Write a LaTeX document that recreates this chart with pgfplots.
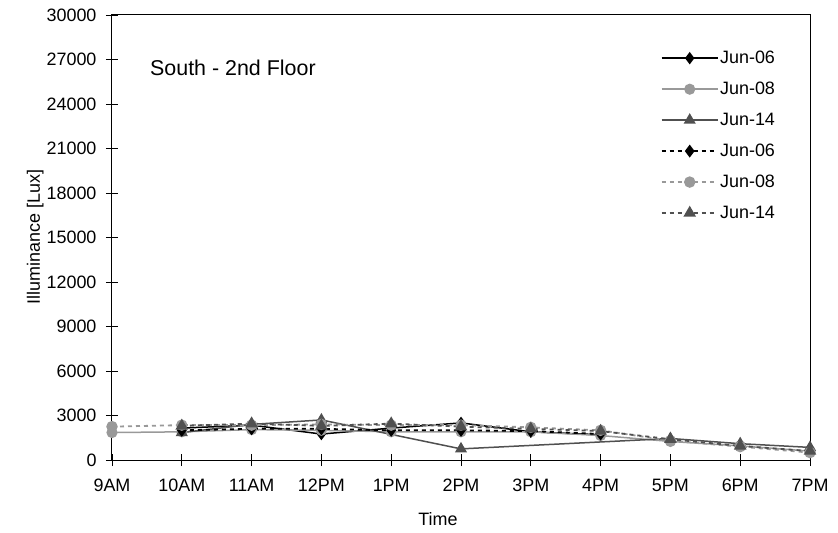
\documentclass[border=0pt]{standalone}
\usepackage{fontspec}
\setmainfont{Liberation Sans}
\usepackage{pgfplots}
\pgfplotsset{compat=1.18}
\definecolor{lgray}{RGB}{153,153,153}
\definecolor{dgray}{RGB}{80,80,80}
\begin{document}
\begin{tikzpicture}
\useasboundingbox (-112bp,-73bp) rectangle (726bp,460bp);
\begin{axis}[
  at={(0,0)}, anchor=south west,
  scale only axis, width=698bp, height=445bp,
  xmin=0, xmax=10, ymin=0, ymax=30000,
  xtick={0,...,10},
  xticklabels={9AM,10AM,11AM,12PM,1PM,2PM,3PM,4PM,5PM,6PM,7PM},
  ytick={0,3000,...,30000},
  /pgf/number format/assume math mode=true,
  /pgf/number format/set thousands separator={},
  scaled y ticks=false,
  tick align=center, major tick length=12bp,
  xtick pos=bottom, ytick pos=left,
  tick style={black, line width=0.8bp},
  axis line style={black, line width=1bp},
  ticklabel style={font=\fontsize{18}{20}\selectfont},
  xticklabel style={text height=13bp, text depth=0bp, yshift=-9bp},
  yticklabel style={xshift=-6bp},
  xlabel={Time}, ylabel={Illuminance [Lux]},
  every axis x label/.style={at={(axis description cs:0.467,-0.1326)}, anchor=center, font=\fontsize{18}{20}\selectfont},
  every axis y label/.style={at={(axis description cs:-0.110,0.501)}, anchor=center, rotate=90, font=\fontsize{18}{20}\selectfont},
  clip=false,
  legend cell align=left,
  legend image code/.code={\draw[mark repeat=2,mark phase=2,#1] plot coordinates {(0bp,0bp) (28bp,0bp) (56bp,0bp)};},
  legend style={draw=none, fill=none, at={(axis description cs:0.786,0.9225)}, anchor=north west,
    font=\fontsize{18}{20}\selectfont, inner sep=0pt, row sep=14bp,
    nodes={inner sep=1.5bp}},
]
% solid series
\addplot[black, line width=1.5bp, mark=diamond*, mark size=5bp, mark options={solid, fill=black}]
  coordinates {(1,2150) (2,2350) (3,1750) (4,2150) (5,2500) (6,1900) (7,1700)};
\addlegendentry{Jun-06}
\addplot[lgray, line width=1.5bp, mark=*, mark size=4.8bp, mark options={solid, fill=lgray}]
  coordinates {(0,1850) (1,1900) (2,2050) (3,2000) (4,1900) (5,1900) (6,1900) (7,1650) (8,1250) (9,950) (10,600)};
\addlegendentry{Jun-08}
\addplot[dgray, line width=1.5bp, mark=triangle*, mark size=5.5bp, mark options={solid, fill=dgray}]
  coordinates {(1,1850) (2,2400) (3,2700) (5,750) (8,1450) (9,1100) (10,850)};
\addlegendentry{Jun-14}
% dashed series
\addplot[black, line width=1.8bp, dash pattern=on 4bp off 4bp, mark=diamond*, mark size=5bp, mark options={solid, fill=black}]
  coordinates {(1,2000) (2,2100) (3,2100) (4,2000) (5,2000) (6,1950) (7,1750)};
\addlegendentry{Jun-06}
\addplot[lgray, line width=1.8bp, dash pattern=on 4bp off 4bp, mark=*, mark size=4.8bp, mark options={solid, fill=lgray}]
  coordinates {(0,2250) (1,2350) (2,2350) (3,2400) (4,2350) (5,2350) (6,2200) (7,2000) (8,1300) (9,900) (10,500)};
\addlegendentry{Jun-08}
\addplot[dgray, line width=1.8bp, dash pattern=on 4bp off 4bp, mark=triangle*, mark size=5.5bp, mark options={solid, fill=dgray}]
  coordinates {(1,2300) (2,2450) (3,2300) (4,2450) (5,2250) (6,2100) (7,1950) (8,1400) (9,950) (10,600)};
\addlegendentry{Jun-14}
\node[anchor=west, inner sep=0pt, font=\fontsize{21.5}{24}\selectfont] at (axis cs:0.544,26420) {South - 2nd Floor};
\end{axis}
\end{tikzpicture}
\end{document}
